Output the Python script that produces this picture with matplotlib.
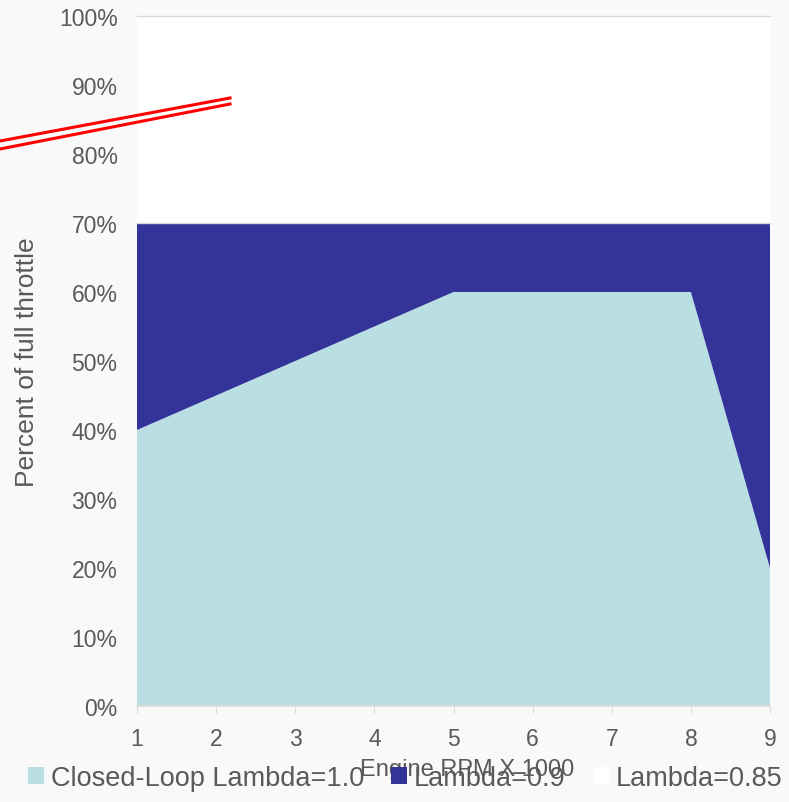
import numpy as np
import matplotlib.pyplot as plt
from matplotlib.lines import Line2D
from matplotlib.patches import Patch

# throttle map: stacked share of full throttle per lambda zone
rpm = [1, 2, 3, 4, 5, 6, 7, 8, 9]
closed_loop = [40, 45, 50, 55, 60, 60, 60, 60, 20]
lambda_09 = [30, 25, 20, 15, 10, 10, 10, 10, 50]
lambda_085 = [30, 30, 30, 30, 30, 30, 30, 30, 30]
labels = ['Closed-Loop Lambda=1.0', 'Lambda=0.9', 'Lambda=0.85']
colors = ['#b9dfe2', '#333399', '#ffffff']

plt.rcParams['font.family'] = ['Liberation Sans', 'DejaVu Sans']
txt = '#595959'

fig = plt.figure(figsize=(7.89, 8.03), dpi=100, facecolor='#f9f9f9')
ax = fig.add_axes([137 / 789, 1 - 707 / 803, (770 - 137) / 789, (707 - 17) / 803])
ax.set_facecolor('white')

ax.stackplot(rpm, closed_loop, lambda_09, lambda_085, colors=colors, zorder=2)
ax.set_xlim(1, 9)
ax.set_ylim(0, 100)
ax.set_yticks(np.arange(0, 101, 10))
ax.set_yticklabels([f'{v}%' for v in range(0, 101, 10)])
ax.set_xticks(rpm)
for g in (70, 100):
    ax.axhline(g, color='#d9d9d9', lw=1, zorder=3, clip_on=False)

for s in ['top', 'right', 'left']:
    ax.spines[s].set_visible(False)
ax.spines['bottom'].set_color('#d9d9d9')
ax.spines['bottom'].set_linewidth(1.2)
ax.tick_params(axis='y', length=0, labelsize=16.5, labelcolor=txt, pad=14)
ax.tick_params(axis='x', length=5, color='#d9d9d9', labelsize=16.5, labelcolor=txt, pad=10)

ax.set_xlabel('Engine RPM X 1000', fontsize=17, color=txt)
ax.xaxis.set_label_coords(0.521, -0.075)
ax.set_ylabel('Percent of full throttle', fontsize=19, color=txt, labelpad=14)

handles = [Patch(facecolor=c, edgecolor='none') for c in colors]
fig.legend(handles, labels, loc='center', bbox_to_anchor=(405 / 789, 1 - 779 / 803),
           ncol=3, frameon=False, fontsize=19.5, labelcolor=txt, handlelength=0.6,
           handleheight=0.6, handletextpad=0.25, columnspacing=1.0)

# red break marks across the y axis
for y0, y1 in [(142, 99), (150, 105)]:
    fig.add_artist(Line2D([0, 230 / 789], [1 - y0 / 803, 1 - y1 / 803],
                          transform=fig.transFigure, color='red', lw=2.2))

fig.savefig('out.png', dpi=100, facecolor=fig.get_facecolor())
